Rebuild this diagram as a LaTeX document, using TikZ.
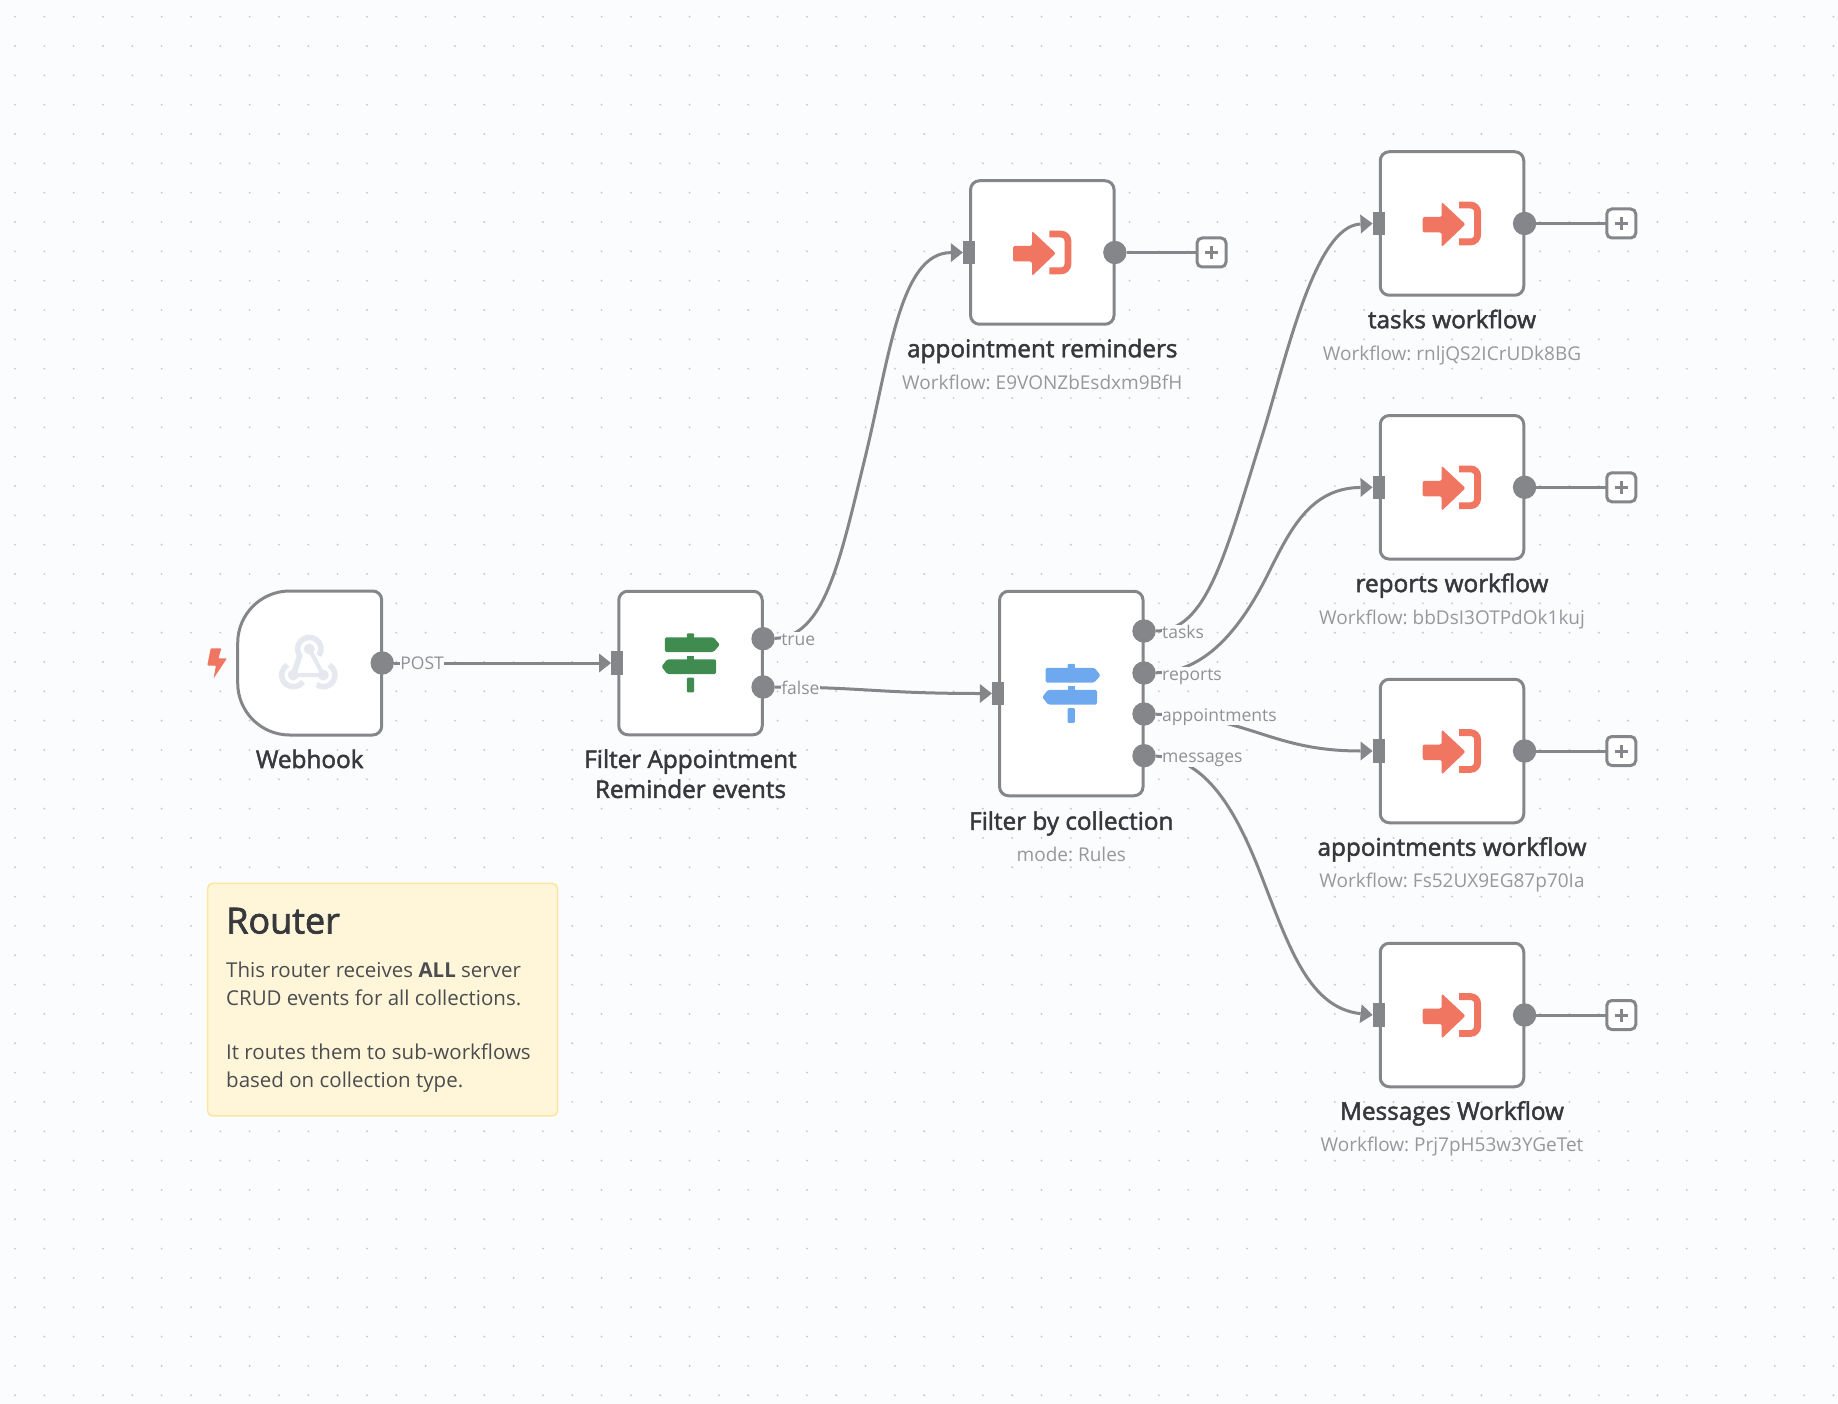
\documentclass[tikz,border=0pt]{standalone}
\usepackage{fontspec}
\setmainfont{Open Sans}
\newfontfamily\namefont[FakeBold=2]{Open Sans}
\frenchspacing
\usetikzlibrary{arrows.meta}

\definecolor{pagebg}{HTML}{FBFCFE}
\definecolor{griddot}{HTML}{C6C8CE}
\definecolor{wiregray}{HTML}{85868A}
\definecolor{nametext}{HTML}{37383B}
\definecolor{subtext}{HTML}{96989C}
\definecolor{labeltext}{HTML}{8F9195}
\definecolor{iconred}{HTML}{F07662}
\definecolor{signgreen}{HTML}{408C50}
\definecolor{signblue}{HTML}{6EA8EF}
\definecolor{hookgray}{HTML}{E6E8F0}
\definecolor{notefill}{HTML}{FFF6DA}
\definecolor{noteline}{HTML}{FCE59F}

\tikzset{
  nodebox/.style={draw=wiregray,fill=white,line width=3pt,rounded corners=9pt,
    minimum width=143.5pt,minimum height=#1,outer sep=0pt,inner sep=0pt},
  nodebox/.default=143.5pt,
  outdot/.style={circle,fill=wiregray,minimum size=23.4pt,inner sep=0pt,outer sep=0pt},
  indot/.style={rectangle,fill=wiregray,minimum width=12pt,minimum height=23.5pt,inner sep=0pt,outer sep=0pt},
  plusbox/.style={draw=wiregray,fill=white,line width=3pt,rounded corners=5pt,
    minimum size=29pt,inner sep=0pt,outer sep=0pt},
  wire/.style={draw=wiregray,line width=3pt},
  wiretip/.style={wire,-{Triangle[length=12pt,width=19pt,line width=0pt]}},
  nodename/.style={font=\namefont\fontsize{24.3}{30}\selectfont,text=nametext,anchor=base,inner sep=0pt},
  nodesub/.style={font=\fontsize{19}{24}\selectfont,text=subtext,anchor=base,inner sep=0pt},
  wirelabel/.style={font=\fontsize{17.5}{22}\selectfont,text=labeltext,fill=pagebg,anchor=base west,
    inner xsep=0pt,inner ysep=0pt,text height=13.5pt,text depth=4pt},
  signpost/.pic={
    \fill[#1,rounded corners=1.5pt] (-25.7,-25.7) -- (23,-25.7) -- (29.3,-18.3) -- (23,-11) -- (-25.7,-11) -- cycle;
    \fill[#1,rounded corners=1.5pt] (-29,3.6) -- (-23.3,-3.7) -- (25.7,-3.7) -- (25.7,11) -- (-23.3,11) -- cycle;
    \fill[#1,rounded corners=1pt] (-3.6,-24) -- (-3.6,-29.7) -- (3.6,-29.7) -- (3.6,-24) -- cycle;
    \fill[#1] (-3.6,-7.3) rectangle (3.6,-3);
    \fill[#1,rounded corners=1pt] (-3.6,14.7) -- (3.6,14.7) -- (3.6,29.3) -- (-3.6,29.3) -- cycle;
  },
  subflow/.pic={
    \fill[iconred,rounded corners=2pt] (-29.3,-6.5) -- (-10.3,-6.5) -- (-10.3,-21.5) -- (13.5,0.8) -- (-10.3,23.5) -- (-10.3,9) -- (-29.3,9) -- cycle;
    \draw[iconred,line width=6.8pt,rounded corners=7pt] (7,-18.4) -- (25.6,-18.4) -- (25.6,18.4) -- (7,18.4);
  },
}

\begin{document}
\begin{tikzpicture}[x=1pt,y=-1pt]
  \fill[pagebg] (0,0) rectangle (1838,1404);
  \useasboundingbox (0,0) rectangle (1838,1404);
  \foreach \i in {0,...,62}
    \foreach \j in {0,...,47}
      \fill[griddot] ({15+29.33*\i},{16.7+29.33*\j}) circle (1.05pt);

  % webhook
  \node[minimum size=144pt,inner sep=0pt,outer sep=0pt] (webhook) at (309.7,663) {};
  \draw[wiregray,fill=white,line width=3pt] ([xshift=52pt]webhook.north west) -- ([xshift=-9pt]webhook.north east)
    arc[start angle=90,end angle=0,radius=9pt] -- ([yshift=9pt]webhook.south east)
    arc[start angle=0,end angle=-90,radius=9pt] -- ([xshift=52pt]webhook.south west)
    arc[start angle=-90,end angle=-180,radius=52pt] -- ([yshift=-52pt]webhook.north west)
    arc[start angle=180,end angle=90,radius=52pt] -- cycle;
  \draw[hookgray,line width=4pt] (309.3,649) -- (323.3,675) -- (293.3,675);
  \draw[hookgray,line width=5.5pt] (309.3,649) ++(-35:11.7pt) arc[start angle=-35,end angle=215,radius=11.7pt] -- (293.3,675);
  \draw[hookgray,line width=5.5pt] (293.3,675) ++(120:11.7pt) arc[start angle=120,end angle=325,radius=11.7pt];
  \draw[hookgray,line width=5.5pt] (323.3,675) ++(60:11.7pt) arc[start angle=60,end angle=-125,radius=11.7pt];
  \foreach \hx/\hy in {309.3/649,293.3/675,323.3/675}
    \fill[hookgray] (\hx,\hy) circle (5.5pt);
  \fill[iconred,rounded corners=1pt] (210.7,648.3) -- (221.5,648.3) -- (218.3,658.3) -- (227,658.3)
    -- (213.5,678.5) -- (216,665.5) -- (207.3,665.5) -- cycle;
  \node[outdot] (webhookOut) at ([xshift=0.5pt]webhook.east) {};
  \node[nodename] (webhookName) at ([yshift=-33pt]webhook.south) {Webhook};

  % filters
  \node[nodebox] (remfilter) at (690.5,663) {};
  \pic at (remfilter.center) {signpost=signgreen};
  \node[indot] (remfilterIn) at ([xshift=-1.7pt]remfilter.west) {};
  \node[outdot] (remfilterTrue) at ([xshift=0.8pt,yshift=24.3pt]remfilter.east) {};
  \node[outdot] (remfilterFalse) at ([xshift=0.8pt,yshift=-24pt]remfilter.east) {};
  \node[nodename,align=center,anchor=north] (remfilterName) at ([yshift=-14.5pt]remfilter.south) {Filter Appointment\\Reminder events};

  \node[nodebox=204.5pt] (coll) at (1071.3,693.5) {};
  \pic at (coll.center) {signpost=signblue};
  \node[indot] (collIn) at ([xshift=-1.7pt]coll.west) {};
  \node[outdot] (collTasks) at (1144,631) {};
  \node[outdot] (collReports) at (1144,673) {};
  \node[outdot] (collAppts) at (1144,714) {};
  \node[outdot] (collMsgs) at (1144,755.7) {};
  \node[nodename] (collName) at ([yshift=-34pt]coll.south) {Filter by collection};
  \node[nodesub] (collSub) at ([yshift=-31.5pt]collName.base) {mode: Rules};

  % sub workflows
  \foreach \wf/\wfx/\wfy/\wftitle/\wfcode in {
      remind/1042.3/252.5/appointment reminders/E9VONZbEsdxm9BfH,
      tasks/1452/223.5/tasks workflow/rnljQS2ICrUDk8BG,
      reports/1452/487.3/reports workflow/bbDsI3OTPdOk1kuj,
      appts/1452/751/appointments workflow/Fs52UX9EG87p70Ia,
      msgs/1452/1015/Messages Workflow/Prj7pH53w3YGeTet} {
    \node[nodebox] (\wf) at (\wfx,\wfy) {};
    \pic at (\wf.center) {subflow};
    \node[indot] (\wf In) at ([xshift=-1.7pt]\wf.west) {};
    \node[outdot] (\wf Out) at ([xshift=0.8pt]\wf.east) {};
    \node[plusbox] (\wf Plus) at ([xshift=97.5pt]\wf.east) {};
    \draw[wire] (\wf Out) -- (\wf Plus);
    \draw[wiregray,line width=3pt] ([xshift=-6.5pt]\wf Plus.center) -- ([xshift=6.5pt]\wf Plus.center);
    \draw[wiregray,line width=3pt] ([yshift=-6.5pt]\wf Plus.center) -- ([yshift=6.5pt]\wf Plus.center);
    \node[nodename] (\wf Name) at ([yshift=-33pt]\wf.south) {\wftitle};
    \node[nodesub] (\wf Sub) at ([yshift=-32pt]\wf Name.base) {Workflow: \wfcode};
  }

  % connectors
  \coordinate (trueMid) at (865,458);
  \coordinate (tasksMid) at (1263,433);
  \coordinate (reportsMid) at (1268,574);
  \coordinate (msgsMid) at (1263,880);
  \draw[wiretip] (webhookOut) -- (remfilterIn.west);
  \draw[wiretip] (remfilterTrue) .. controls (825,637) and (840,560) .. (trueMid)
    .. controls (890,355) and (900,253) .. (remindIn.west);
  \draw[wiretip] (remfilterFalse) .. controls (860,687) and (880,693.5) .. (collIn.west);
  \draw[wiretip] (collTasks) .. controls (1207,631) and (1225,555) .. (tasksMid)
    .. controls (1287,355) and (1315,226) .. (tasksIn.west);
  \draw[wiretip] (collReports) .. controls (1205,672) and (1240,630) .. (reportsMid)
    .. controls (1290,530) and (1310,488) .. (reportsIn.west);
  \draw[wiretip] (collAppts) .. controls (1250,716) and (1270,751) .. (apptsIn.west);
  \draw[wiretip] (collMsgs) .. controls (1210,758) and (1240,820) .. (msgsMid)
    .. controls (1290,950) and (1310,1008) .. (msgsIn.west);

  % labels on connectors
  \node[wirelabel] (postLabel) at ([xshift=18pt,yshift=-6.5pt]webhookOut.center) {POST};
  \node[wirelabel] (trueLabel) at ([xshift=18pt,yshift=-6.5pt]remfilterTrue.center) {true};
  \node[wirelabel] (falseLabel) at ([xshift=18pt,yshift=-7pt]remfilterFalse.center) {false};
  \node[wirelabel] (tasksLabel) at ([xshift=18pt,yshift=-7pt]collTasks.center) {tasks};
  \node[wirelabel] (reportsLabel) at ([xshift=18pt,yshift=-7pt]collReports.center) {reports};
  \node[wirelabel] (apptsLabel) at ([xshift=18pt,yshift=-7pt]collAppts.center) {appointments};
  \node[wirelabel] (msgsLabel) at ([xshift=18pt,yshift=-7pt]collMsgs.center) {messages};

  % sticky note
  \node[draw=noteline,fill=notefill,line width=1.5pt,rounded corners=5pt,minimum width=350pt,
    minimum height=232.5pt,inner sep=0pt] (note) at (382.5,999.7) {};
  \node[font=\namefont\fontsize{36}{40}\selectfont,text=nametext,anchor=base west,inner sep=0pt] (noteTitle) at (226,933.5) {Router};
  \node[font=\fontsize{20.5}{27.4}\selectfont,text=nametext!90,anchor=north west,align=left,inner sep=0pt] (noteBody) at (226,962)
    {This router receives \textbf{ALL} server\\CRUD events for all collections.\\[27.4pt]It routes them to sub-workflows\\based on collection type.};
\end{tikzpicture}
\end{document}
